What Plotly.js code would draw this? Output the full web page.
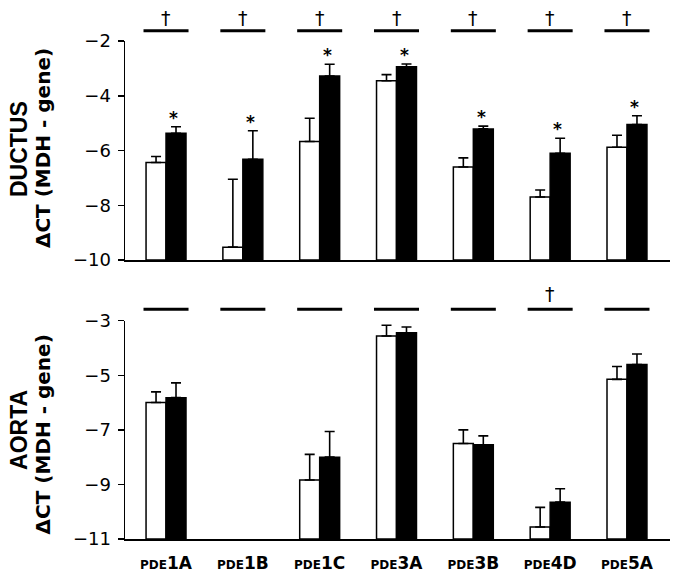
<!DOCTYPE html>
<html>
<head>
<meta charset="utf-8">
<script src="https://cdn.plot.ly/plotly-3.0.1.min.js"></script>
<style>html,body{margin:0;padding:0;background:#fff}#chart{width:679px;height:580px}</style>
</head>
<body>
<div id="chart"></div>
<script>
// ---- data ----
var categories = ["PDE1A", "PDE1B", "PDE1C", "PDE3A", "PDE3B", "PDE4D", "PDE5A"];
var tickLabels = ["1A", "1B", "1C", "3A", "3B", "4D", "5A"];

var ductusOpen      = [-6.44, -9.53, -5.67, -3.45, -6.60, -7.70, -5.88];
var ductusOpenErr   = [0.22, 2.48, 0.85, 0.22, 0.33, 0.26, 0.44];
var ductusFilled    = [-5.37, -6.32, -3.28, -2.94, -5.21, -6.10, -5.05];
var ductusFilledErr = [0.24, 1.04, 0.43, 0.10, 0.10, 0.55, 0.32];
var ductusStar      = [true, true, true, true, true, true, true];
var ductusDagger    = [true, true, true, true, true, true, true];

var aortaOpen       = [-6.00, null, -8.84, -3.56, -7.50, -10.56, -5.15];
var aortaOpenErr    = [0.39, null, 0.94, 0.39, 0.50, 0.72, 0.47];
var aortaFilled     = [-5.82, null, -8.00, -3.44, -7.55, -9.65, -4.61];
var aortaFilledErr  = [0.54, null, 0.94, 0.21, 0.33, 0.49, 0.39];
var aortaStar       = [false, false, false, false, false, false, false];
var aortaDagger     = [false, false, false, false, false, true, false];

var ductusBase = -10;
var aortaBase = -11;

// ---- build ----
var FONT = "Liberation Sans, Arial, sans-serif";
var WIDE = "DejaVu Sans, sans-serif";
function lengths(vals, base) { return vals.map(function (v) { return v === null ? null : v - base; }); }
function zeros(vals) { return vals.map(function () { return 0; }); }

function barTrace(vals, errs, base, filled, xa, ya, name) {
  return {
    type: "bar", name: name,
    x: categories, y: lengths(vals, base), base: base,
    xaxis: xa, yaxis: ya,
    marker: { color: filled ? "#000" : "#fff", line: { color: "#000", width: 1.5 } },
    error_y: { type: "data", symmetric: false, array: errs, arrayminus: zeros(errs),
               color: "#000", thickness: 1.6, width: 5 },
    hoverinfo: "skip", showlegend: false
  };
}

var data = [
  barTrace(ductusOpen, ductusOpenErr, ductusBase, false, "x", "y", "Open"),
  barTrace(ductusFilled, ductusFilledErr, ductusBase, true, "x", "y", "Filled"),
  barTrace(aortaOpen, aortaOpenErr, aortaBase, false, "x2", "y2", "Open"),
  barTrace(aortaFilled, aortaFilledErr, aortaBase, true, "x2", "y2", "Filled")
];

var ticktext = tickLabels.map(function (t) {
  return "<b><span style='font-size:12px'>PDE</span>" + t + "</b>";
});

var xRange = [-0.534, 6.56];
var lineY = { top: 1.0207, bottom: 0.4612 };
var daggerY = { top: 1.047, bottom: 0.491 };

var shapes = [];
var annotations = [];
var halfLine = 0.293;
var filledOffset = 0.10;

function addMarks(flagsDagger, flagsStar, filledVals, filledErr, xref, yref, ly, dy) {
  categories.forEach(function (c, i) {
    shapes.push({ type: "line", xref: xref, yref: "paper", x0: i - halfLine, x1: i + halfLine,
                  y0: ly, y1: ly, line: { color: "#000", width: 3 } });
    if (flagsDagger[i]) {
      annotations.push({ xref: xref, yref: "paper", x: i, y: dy, text: "†", showarrow: false,
                         font: { family: WIDE, size: 19, color: "#000" },
                         xanchor: "center", yanchor: "middle" });
    }
    if (flagsStar[i] && filledVals[i] !== null) {
      annotations.push({ xref: xref, yref: yref, x: i + filledOffset, y: filledVals[i] + filledErr[i],
                         text: "<b>*</b>", showarrow: false, yshift: 9,
                         font: { family: WIDE, size: 17, color: "#000" },
                         xanchor: "center", yanchor: "middle" });
    }
  });
}
addMarks(ductusDagger, ductusStar, ductusFilled, ductusFilledErr, "x", "y", lineY.top, daggerY.top);
addMarks(aortaDagger, aortaStar, aortaFilled, aortaFilledErr, "x2", "y2", lineY.bottom, daggerY.bottom);

function titleAnn(text, size, family, xshift, y) {
  return { xref: "paper", yref: "paper", x: 0, y: y, xshift: xshift, text: text, textangle: -90,
           showarrow: false, font: { family: family, size: size, color: "#000" },
           xanchor: "center", yanchor: "middle" };
}
annotations.push(titleAnn("<b>DUCTUS</b>", 23, FONT, -106, 0.783));
annotations.push(titleAnn("<b>ΔCT (MDH - gene)</b>", 20, WIDE, -82, 0.785));
annotations.push(titleAnn("<b>AORTA</b>", 23, FONT, -106, 0.219));
annotations.push(titleAnn("<b>ΔCT (MDH - gene)</b>", 20, WIDE, -82, 0.21));

var yCommon = {
  showline: true, linecolor: "#000", linewidth: 1.5, ticks: "outside", ticklen: 6, tickwidth: 1.5,
  tickcolor: "#000", showgrid: false, zeroline: false, dtick: 2, ticklabelstandoff: 3,
  tickfont: { family: WIDE, size: 18, color: "#000" }, fixedrange: true
};
var xCommon = {
  type: "category", range: xRange, showline: true, linecolor: "#000", linewidth: 1.5,
  ticks: "", showgrid: false, zeroline: false, fixedrange: true,
  tickvals: categories, ticktext: ticktext,
  tickfont: { family: WIDE, size: 17, color: "#000" }
};

var layout = {
  width: 679, height: 580,
  margin: { l: 125, r: 9, t: 41, b: 41 },
  paper_bgcolor: "#fff", plot_bgcolor: "#fff",
  barmode: "group", bargap: 0.48, bargroupgap: 0,
  showlegend: false,
  font: { family: FONT, color: "#000" },
  xaxis: Object.assign({}, xCommon, { anchor: "y", showticklabels: false }),
  yaxis: Object.assign({}, yCommon, { domain: [0.5602, 1], range: [-10, -2], tick0: -2, anchor: "x" }),
  xaxis2: Object.assign({}, xCommon, { anchor: "y2", showticklabels: true, ticklabelstandoff: 8 }),
  yaxis2: Object.assign({}, yCommon, { domain: [0, 0.4384], range: [-11, -3], tick0: -3, anchor: "x2" }),
  shapes: shapes,
  annotations: annotations
};

Plotly.newPlot("chart", data, layout, { staticPlot: true, displayModeBar: false });
</script>
</body>
</html>
